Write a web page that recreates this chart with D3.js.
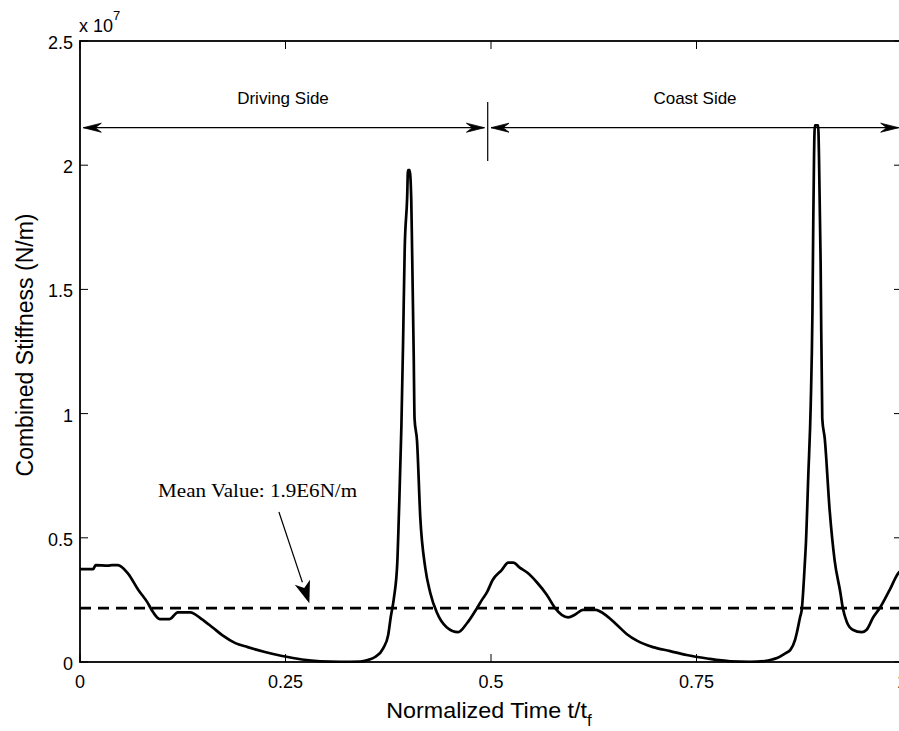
<!DOCTYPE html>
<html>
<head>
<meta charset="utf-8">
<script src="https://cdn.jsdelivr.net/npm/d3@7"></script>
<style>
  html, body { margin: 0; padding: 0; background: #fff; }
  svg { display: block; }
</style>
</head>
<body>
<div id="chart"></div>
<script>
// ---- Data (stiffness in units of 1e7 N/m) ----
const tValues = [0.000,0.016,0.019,0.034,0.039,0.046,0.058,0.071,0.082,0.089,0.097,0.109,0.119,0.134,0.148,0.161,0.173,0.189,0.204,0.225,0.246,0.270,0.292,0.316,0.341,0.350,0.359,0.369,0.375,0.378,0.382,0.386,0.388,0.391,0.393,0.395,0.398,0.399,0.401,0.403,0.404,0.406,0.407,0.410,0.414,0.420,0.426,0.434,0.446,0.460,0.471,0.483,0.489,0.495,0.502,0.513,0.521,0.527,0.535,0.544,0.556,0.568,0.578,0.586,0.594,0.602,0.612,0.627,0.641,0.653,0.665,0.678,0.697,0.718,0.738,0.763,0.791,0.815,0.833,0.842,0.848,0.858,0.864,0.870,0.872,0.876,0.878,0.882,0.883,0.886,0.889,0.891,0.892,0.893,0.894,0.898,0.899,0.901,0.903,0.906,0.912,0.918,0.925,0.928,0.933,0.940,0.951,0.957,0.965,0.973,0.985,0.996,1.000];
const stiffness = [0.374,0.374,0.390,0.388,0.390,0.390,0.358,0.290,0.240,0.200,0.173,0.173,0.200,0.200,0.173,0.140,0.108,0.076,0.060,0.040,0.024,0.010,0.003,0.001,0.002,0.008,0.020,0.056,0.110,0.180,0.260,0.400,0.600,0.950,1.280,1.660,1.870,1.980,1.980,1.860,1.660,1.230,0.980,0.890,0.580,0.380,0.280,0.200,0.140,0.120,0.157,0.217,0.250,0.280,0.330,0.370,0.400,0.400,0.380,0.360,0.320,0.270,0.217,0.190,0.180,0.190,0.210,0.210,0.185,0.150,0.113,0.085,0.060,0.044,0.028,0.014,0.003,0.001,0.004,0.010,0.016,0.035,0.048,0.090,0.117,0.180,0.210,0.410,0.470,0.750,1.040,1.400,1.750,2.040,2.160,2.160,2.040,1.610,0.980,0.900,0.610,0.410,0.280,0.217,0.160,0.130,0.120,0.130,0.180,0.217,0.290,0.360,0.370];
const meanValue = 0.217;
const xTicks = [0, 0.25, 0.5, 0.75, 1];
const xTickLabels = ["0", "0.25", "0.5", "0.75", "1"];
const yTicks = [0, 0.5, 1, 1.5, 2, 2.5];
const yTickLabels = ["0", "0.5", "1", "1.5", "2", "2.5"];
const sideLabels = ["Driving Side", "Coast Side"];
const sideArrowT = [[0.004, 0.492], [0.500, 0.996]];
const dividerT = 0.496;
const arrowY = 2.151;
const dividerY = [2.017, 2.254];
const meanLabel = "Mean Value: 1.9E6N/m";

// ---- Layout ----
const W = 899, H = 731;
const L = 80, R = 902, T = 41, B = 662;

const x = d3.scaleLinear().domain([0, 1]).range([L, R]);
const y = d3.scaleLinear().domain([0, 2.5]).range([B, T]);

const svg = d3.select("#chart").append("svg")
  .attr("width", W).attr("height", H)
  .style("background", "#fff");

const defs = svg.append("defs");
defs.append("clipPath").attr("id", "clip")
  .append("rect").attr("x", L).attr("y", T - 2).attr("width", R - L).attr("height", B - T + 4);

const font = "Arial, 'Liberation Sans', Helvetica, sans-serif";

// mean dashed line
svg.append("line")
  .attr("x1", x(0)).attr("x2", x(1))
  .attr("y1", y(meanValue)).attr("y2", y(meanValue))
  .attr("stroke", "#000").attr("stroke-width", 2.6)
  .attr("stroke-dasharray", "11,7");

// curve
const data = tValues.map((t, i) => [t, stiffness[i]]);
svg.append("path")
  .datum(data)
  .attr("clip-path", "url(#clip)")
  .attr("fill", "none").attr("stroke", "#000")
  .attr("stroke-width", 2.7).attr("stroke-linejoin", "round")
  .attr("d", d3.line().curve(d3.curveMonotoneX).x(d => x(d[0])).y(d => y(d[1])));

// frame + ticks
const axisG = svg.append("g");
axisG.append("rect").attr("x", L).attr("y", T).attr("width", R - L).attr("height", B - T)
  .attr("fill", "none").attr("stroke", "#000").attr("stroke-width", 1.8);

const tickLen = 8;
xTicks.forEach((t, i) => {
  axisG.append("line").attr("x1", x(t)).attr("x2", x(t)).attr("y1", B).attr("y2", B - tickLen)
    .attr("stroke", "#000").attr("stroke-width", 1);
  axisG.append("line").attr("x1", x(t)).attr("x2", x(t)).attr("y1", T).attr("y2", T + tickLen)
    .attr("stroke", "#000").attr("stroke-width", 1);
  axisG.append("text").attr("x", x(t)).attr("y", 688)
    .attr("text-anchor", "middle").attr("font-family", font).attr("font-size", 18)
    .text(xTickLabels[i]);
});
yTicks.forEach((v, i) => {
  axisG.append("line").attr("x1", L).attr("x2", L + tickLen).attr("y1", y(v)).attr("y2", y(v))
    .attr("stroke", "#000").attr("stroke-width", 1);
  axisG.append("line").attr("x1", R).attr("x2", R - tickLen).attr("y1", y(v)).attr("y2", y(v))
    .attr("stroke", "#000").attr("stroke-width", 1);
  axisG.append("text").attr("x", 73).attr("y", y(v) + 8)
    .attr("text-anchor", "end").attr("font-family", font).attr("font-size", 18)
    .text(yTickLabels[i]);
});

// exponent label
const ex = svg.append("text").attr("x", 79).attr("y", 32)
  .attr("font-family", font).attr("font-size", 18);
ex.append("tspan").text("x 10");
ex.append("tspan").attr("dy", -12).attr("font-size", 13).text("7");

// axis labels
const xl = svg.append("text")
  .attr("transform", "translate(489,718) scale(1.06,1)")
  .attr("text-anchor", "middle").attr("font-family", font).attr("font-size", 22);
xl.append("tspan").text("Normalized Time t/t");
xl.append("tspan").attr("dy", 8).attr("font-size", 16).text("f");

svg.append("text")
  .attr("transform", `translate(33, 345) rotate(-90)`)
  .attr("text-anchor", "middle").attr("font-family", font).attr("font-size", 23)
  .text("Combined Stiffness (N/m)");

// side arrows
function arrowHead(tipX, tipY, dir) {
  const len = 18, hw = 4.5, notch = 12;
  const p = [
    [tipX, tipY],
    [tipX - dir * len, tipY - hw],
    [tipX - dir * notch, tipY],
    [tipX - dir * len, tipY + hw]
  ];
  svg.append("path").attr("d", "M" + p.map(q => q.join(",")).join("L") + "Z")
    .attr("fill", "#000").attr("stroke", "#000").attr("stroke-width", 0.8);
}
sideArrowT.forEach((pair) => {
  svg.append("line").attr("x1", x(pair[0])).attr("x2", x(pair[1]))
    .attr("y1", y(arrowY)).attr("y2", y(arrowY))
    .attr("stroke", "#000").attr("stroke-width", 1.2);
  arrowHead(x(pair[0]), y(arrowY), -1);
  arrowHead(x(pair[1]), y(arrowY), 1);
});
svg.append("line").attr("x1", x(dividerT)).attr("x2", x(dividerT))
  .attr("y1", y(dividerY[0])).attr("y2", y(dividerY[1]))
  .attr("stroke", "#000").attr("stroke-width", 1.2);

svg.append("text").attr("x", 283).attr("y", 104)
  .attr("text-anchor", "middle").attr("font-family", font).attr("font-size", 17)
  .text(sideLabels[0]);
svg.append("text").attr("x", 695).attr("y", 104)
  .attr("text-anchor", "middle").attr("font-family", font).attr("font-size", 17)
  .text(sideLabels[1]);

// mean annotation
const aStart = [0.242, 0.604], aTip = [0.279, meanValue + 0.02];
const sx = x(aStart[0]), sy = y(aStart[1]), tx = x(aTip[0]), ty = y(aTip[1]);
const ang = Math.atan2(ty - sy, tx - sx);
const hl = 22, hw2 = 8;
const bx = tx - hl * Math.cos(ang), by = ty - hl * Math.sin(ang);
svg.append("line").attr("x1", sx).attr("y1", sy).attr("x2", bx).attr("y2", by)
  .attr("stroke", "#000").attr("stroke-width", 1.2);
svg.append("path").attr("d",
  `M${tx},${ty}L${bx + hw2 * Math.sin(ang)},${by - hw2 * Math.cos(ang)}L${bx + 6 * Math.cos(ang)},${by + 6 * Math.sin(ang)}L${bx - hw2 * Math.sin(ang)},${by + hw2 * Math.cos(ang)}Z`)
  .attr("fill", "#000");
svg.append("text").attr("x", x(0.095)).attr("y", y(0.664))
  .attr("font-family", "'Liberation Serif', 'Times New Roman', serif").attr("font-size", 18)
  .attr("textLength", 199).attr("lengthAdjust", "spacingAndGlyphs")
  .text(meanLabel);
</script>
</body>
</html>
